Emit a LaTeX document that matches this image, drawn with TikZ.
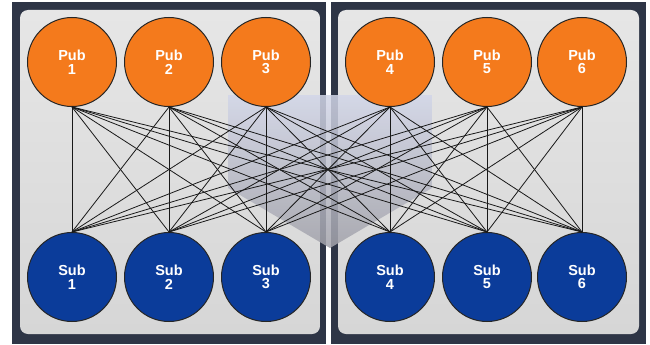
\documentclass[tikz,border=0pt]{standalone}
\usepackage{fontspec}
\setmainfont{Liberation Sans}
\definecolor{pubor}{HTML}{F47A1C}
\definecolor{subbl}{HTML}{0B3C9A}
\definecolor{framec}{HTML}{2E3546}
\definecolor{paneltop}{HTML}{E6E6E6}
\definecolor{panelbot}{HTML}{D6D6D6}
\definecolor{arrtop}{HTML}{D2D6E8}
\definecolor{arrbot}{HTML}{A2A2AA}
\begin{document}
\begin{tikzpicture}[x=1pt,y=-1pt,
  pub/.style={circle, draw=black!85, line width=1pt, fill=pubor, minimum size=89pt,
    inner sep=0pt, text=white, font=\bfseries\fontsize{14.5}{13.5}\selectfont, align=center},
  sub/.style={pub, fill=subbl},
  link/.style={draw=black!90, line width=0.8pt},
  framebox/.style={fill=framec},
  panelbox/.style={top color=paneltop, bottom color=panelbot, rounded corners=8pt}]
\useasboundingbox (0,0) rectangle (650,345);
\fill[white] (0,0) rectangle (650,345);
% panels
\path[framebox] (12,2) rectangle (326,344);
\path[panelbox] (20,10) rectangle (320,334);
\path[framebox] (331,2) rectangle (646,344);
\path[panelbox] (338,10) rectangle (639,334);
% background arrow
\path[top color=arrtop, bottom color=arrbot, opacity=0.85]
  (228,95) -- (432,95) -- (432,188) -- (330,248) -- (228,188) -- cycle;
% nodes
\foreach \i/\x in {1/72,2/169,3/266,4/390,5/487,6/582} {
  \node[pub] (p\i) at (\x,62) {Pub\\\i};
  \node[sub] (s\i) at (\x,277) {Sub\\\i};
}
% links
\foreach \i in {1,...,6} {
  \foreach \j in {1,...,6} {
    \draw[link] (p\i.south) -- (s\j.north);
  }
}
\end{tikzpicture}
\end{document}
